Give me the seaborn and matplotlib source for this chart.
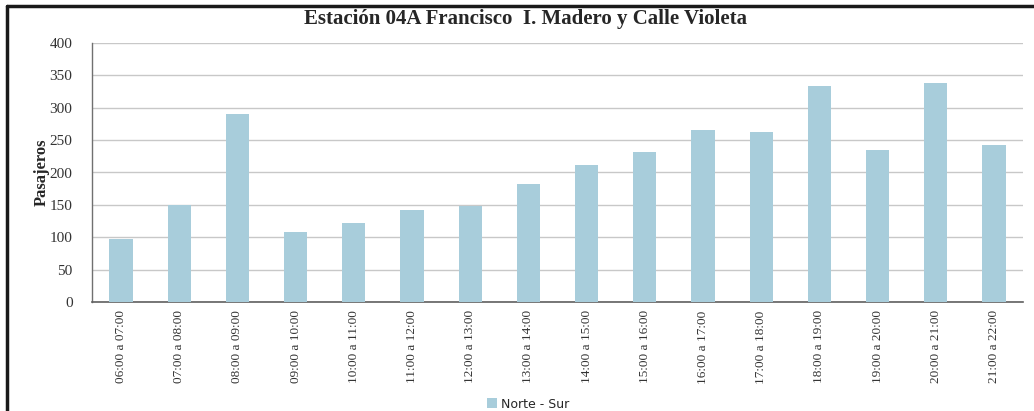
import pandas as pd
import matplotlib
matplotlib.use("Agg")
import matplotlib.pyplot as plt
import seaborn as sns
from matplotlib.lines import Line2D
from matplotlib.patches import Patch

# DATA
horarios = ["06:00 a 07:00", "07:00 a 08:00", "08:00 a 09:00", "09:00 a 10:00",
            "10:00 a 11:00", "11:00 a 12:00", "12:00 a 13:00", "13:00 a 14:00",
            "14:00 a 15:00", "15:00 a 16:00", "16:00 a 17:00", "17:00 a 18:00",
            "18:00 a 19:00", "19:00 a 20:00", "20:00 a 21:00", "21:00 a 22:00"]
pasajeros = [98, 150, 290, 108, 122, 142, 148, 183,
             211, 231, 266, 262, 333, 235, 338, 243]
serie = "Norte - Sur"
y_ticks = [0, 50, 100, 150, 200, 250, 300, 350, 400]

df = pd.DataFrame({"horario": horarios, "pasajeros": pasajeros})

sns.set_style("white")
plt.rcParams['font.family'] = ['Liberation Serif', 'DejaVu Serif']

fig = plt.figure(figsize=(10.34, 4.11), dpi=100)
ax = fig.add_axes([92 / 1034, 1 - 302 / 411, 931 / 1034, 259 / 411])

bar_color = "#A8CDDB"
sns.barplot(data=df, x="horario", y="pasajeros", color=bar_color, width=0.4,
            saturation=1, linewidth=0, edgecolor="none", ax=ax, zorder=3)

ax.set_ylim(0, 400)
ax.set_xlim(-0.5, len(horarios) - 0.5)
ax.set_yticks(y_ticks)
ax.yaxis.grid(True, color="#C8C8C8", linewidth=1, zorder=0)
ax.set_axisbelow(True)

for side in ["top", "right"]:
    ax.spines[side].set_visible(False)
ax.spines["left"].set_color("#707070")
ax.spines["bottom"].set_color("#606060")
ax.spines["left"].set_linewidth(1)
ax.spines["bottom"].set_linewidth(1.2)

ax.tick_params(axis="y", labelsize=11, colors="#333333", length=0, pad=14)
ax.tick_params(axis="x", labelsize=9.5, colors="#333333", length=0, pad=6,
               labelrotation=90)
ax.set_xlabel("")
ax.set_ylabel("Pasajeros", fontsize=12, fontweight="bold", labelpad=0)

fig.text(0.5 + 8 / 1034, 1 - 19 / 411, "Estación 04A Francisco  I. Madero y Calle Violeta",
         ha="center", va="center", fontsize=15, fontweight="bold")

leg_handle = Patch(facecolor=bar_color, edgecolor="none")
fig.legend([leg_handle], [serie], loc="center",
           bbox_to_anchor=(0.5 + 11 / 1034, 1 - 404 / 411),
           frameon=False, handlelength=0.8, handleheight=0.8,
           handletextpad=0.3, prop={"family": "DejaVu Sans", "size": 9})

# black frame lines (top and left) as in the source image
fig.add_artist(Line2D([7 / 1034, 1], [1 - 6 / 411, 1 - 6 / 411],
                      transform=fig.transFigure, color="#1a1a1a", linewidth=2.5))
fig.add_artist(Line2D([7 / 1034, 7 / 1034], [0, 1 - 6 / 411],
                      transform=fig.transFigure, color="#1a1a1a", linewidth=2.5))

fig.savefig("out.png", dpi=100, facecolor="white")
plt.close(fig)
